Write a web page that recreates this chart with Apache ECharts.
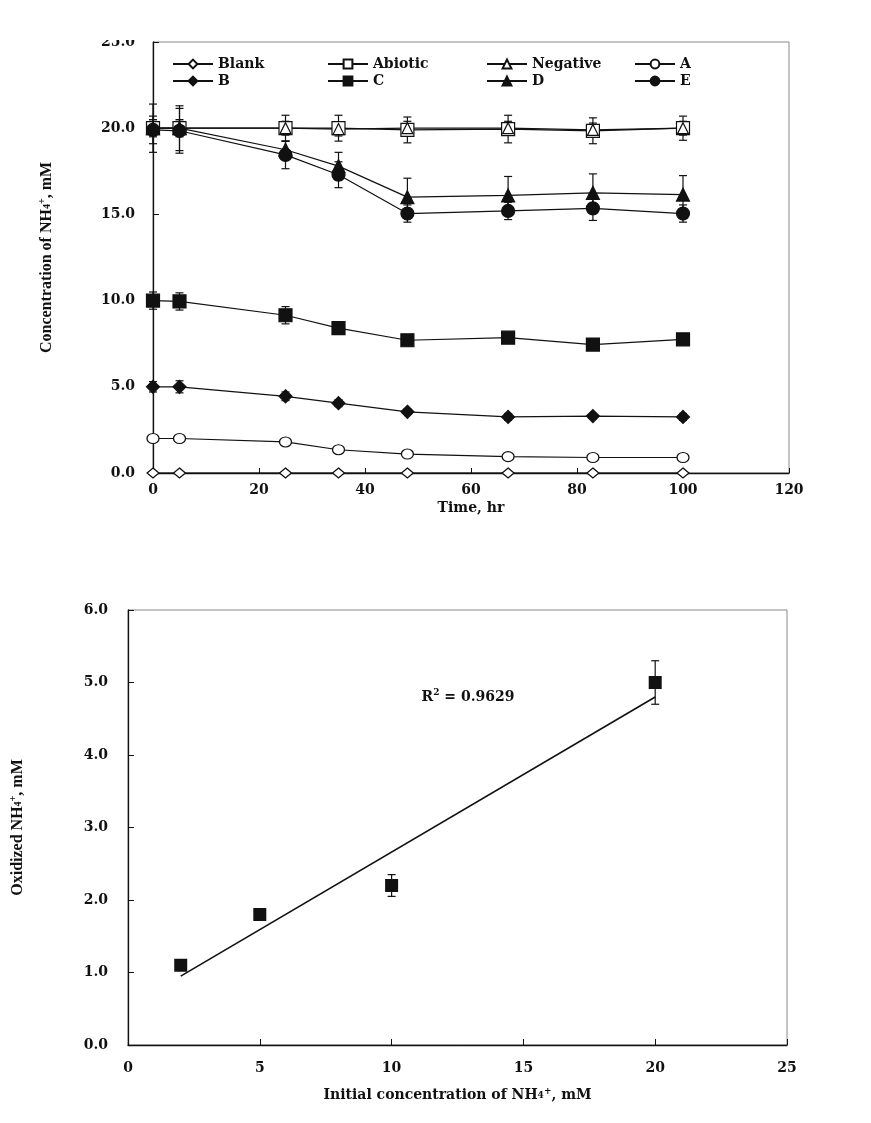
<!DOCTYPE html>
<html>
<head>
<meta charset="utf-8">
<script src="https://cdn.jsdelivr.net/npm/echarts@6/dist/echarts.min.js"></script>
<style>
  html, body { margin: 0; padding: 0; background: #fff; }
  #chart { width: 871px; height: 1123px; }
</style>
</head>
<body>
<div id="chart"></div>
<script>
// ---------- Top chart data ----------
const timeHr = [0, 5, 25, 35, 48, 67, 83, 100];
const blankVals    = [0, 0, 0, 0, 0, 0, 0, 0];
const abioticVals  = [20.0, 20.0, 20.0, 20.0, 19.9, 19.95, 19.85, 20.0];
const negativeVals = [20.0, 20.0, 20.0, 19.95, 20.0, 20.0, 19.9, 20.0];
const aVals = [2.0, 2.0, 1.8, 1.35, 1.1, 0.95, 0.9, 0.9];
const bVals = [5.0, 5.0, 4.45, 4.05, 3.55, 3.25, 3.3, 3.25];
const cVals = [10.0, 9.95, 9.15, 8.4, 7.7, 7.85, 7.45, 7.75];
const dVals = [20.0, 20.0, 18.75, 17.8, 16.0, 16.1, 16.25, 16.15];
const eVals = [19.9, 19.85, 18.45, 17.3, 15.05, 15.2, 15.35, 15.05];

const abioticErr  = [1.4, 1.3, 0.75, 0.75, 0.75, 0.8, 0.75, 0.7];
const negativeErr = [0.4, 0.4, 0.4, 0.4, 0.4, 0.4, 0.4, 0.4];
const aErr = [0.1, 0.1, 0.1, 0.1, 0.1, 0.1, 0.1, 0.1];
const bErr = [0.3, 0.35, 0.25, 0.2, 0.15, 0.2, 0.15, 0.2];
const cErr = [0.5, 0.5, 0.5, 0.35, 0.3, 0.3, 0.2, 0.3];
const dErr = [0.5, 0.5, 0.5, 0.8, 1.1, 1.1, 1.1, 1.1];
const eErr = [0.8, 1.3, 0.8, 0.75, 0.5, 0.5, 0.7, 0.5];

const topXTicks = [0, 20, 40, 60, 80, 100, 120];
const topYTicks = [0, 5, 10, 15, 20, 25];

// ---------- Bottom chart data ----------
const initConc = [2, 5, 10, 20];
const oxidized = [1.1, 1.8, 2.2, 5.0];
const oxidizedErr = [0.04, 0.08, 0.15, 0.3];
const trendX = [2, 20];
const trendY = [0.95, 4.8];
const r2Pos = [11.1, 4.8];
const r2Label = '{base|R}{sup|2}{base| = 0.9629}';

const bottomXTicks = [0, 5, 10, 15, 20, 25];
const bottomYTicks = [0, 1, 2, 3, 4, 5, 6];

// ---------- styles ----------
const tickFont = { fontFamily: 'DejaVu Serif', fontWeight: 'bold', fontSize: 14, color: '#111' };

function zip(xs, ys) { return xs.map((x, i) => [x, ys[i]]); }
function errData(xs, ys, es) { return xs.map((x, i) => [x, ys[i] - es[i], ys[i] + es[i]]); }

function errorBars(xi, yi, data, cap) {
  return {
    type: 'custom', xAxisIndex: xi, yAxisIndex: yi, z: 1, silent: true,
    data: data,
    renderItem: function (params, api) {
      const x = api.value(0), lo = api.value(1), hi = api.value(2);
      const p1 = api.coord([x, hi]), p2 = api.coord([x, lo]);
      const st = { stroke: '#111', lineWidth: 1.2 };
      return { type: 'group', children: [
        { type: 'line', shape: { x1: p1[0], y1: p1[1], x2: p2[0], y2: p2[1] }, style: st },
        { type: 'line', shape: { x1: p1[0] - cap, y1: p1[1], x2: p1[0] + cap, y2: p1[1] }, style: st },
        { type: 'line', shape: { x1: p2[0] - cap, y1: p2[1], x2: p2[0] + cap, y2: p2[1] }, style: st }
      ]};
    }
  };
}

function lineSeries(name, vals, symbol, size, filled) {
  return {
    name: name, type: 'line', xAxisIndex: 0, yAxisIndex: 0, z: 3,
    data: zip(timeHr, vals),
    symbol: symbol, symbolSize: size, showAllSymbol: true,
    lineStyle: { color: '#111', width: 1.2 },
    itemStyle: { color: filled ? '#111' : '#fff', borderColor: '#111', borderWidth: 1.2, opacity: 1 },
    emphasis: { disabled: true }
  };
}

function richName(family, base) {
  return Object.assign({ rich: {
    base: { fontFamily: family, fontWeight: 'bold', fontSize: base, color: '#111' },
    sub: { fontFamily: family, fontWeight: 'bold', fontSize: Math.round(base * 0.65), color: '#111' },
    sup: { fontFamily: family, fontWeight: 'bold', fontSize: Math.round(base * 0.65), color: '#111', padding: [0, 0, Math.round(base * 0.6), 0] }
  } }, { fontFamily: family, fontWeight: 'bold', fontSize: base, color: '#111' });
}

const legendSpec = [
  ['Blank', 172, 57], ['Abiotic', 327, 57], ['Negative', 486, 57], ['A', 634, 57],
  ['B', 172, 74], ['C', 327, 74], ['D', 486, 74], ['E', 634, 74]
];

const option = {
  backgroundColor: '#fff',
  animation: false,
  grid: [
    { left: 153, top: 42, right: 82, bottom: 650, show: true, borderColor: '#888', borderWidth: 1 },
    { left: 128, top: 610, right: 84, bottom: 78, show: true, borderColor: '#888', borderWidth: 1 }
  ],
  legend: legendSpec.map(l => ({
    data: [l[0]], left: l[1], top: l[2], padding: 0,
    itemWidth: 40, itemHeight: 11, selectedMode: false,
    textStyle: { fontFamily: 'DejaVu Serif', fontWeight: 'bold', fontSize: 14, color: '#111' }
  })),
  xAxis: [
    {
      gridIndex: 0, type: 'value', min: 0, max: 120, interval: 20,
      name: 'Time, hr', nameLocation: 'middle', nameGap: 28,
      nameTextStyle: { fontFamily: 'DejaVu Serif', fontWeight: 'bold', fontSize: 14, color: '#111' },
      axisLine: { lineStyle: { color: '#111', width: 1.3 } },
      axisTick: { inside: true, length: 5, lineStyle: { color: '#111' } },
      axisLabel: Object.assign({ margin: 10, formatter: v => topXTicks.includes(v) ? String(v) : '' }, tickFont),
      splitLine: { show: false }
    },
    {
      gridIndex: 1, type: 'value', min: 0, max: 25, interval: 5,
      name: '{base|Initial concentration of NH}{sub|4}{sup|+}{base|, mM}', nameLocation: 'middle', nameGap: 42,
      nameTextStyle: richName('DejaVu Serif', 14),
      axisLine: { lineStyle: { color: '#111', width: 1.3 } },
      axisTick: { inside: true, length: 6, lineStyle: { color: '#111' } },
      axisLabel: Object.assign({ margin: 16, formatter: v => bottomXTicks.includes(v) ? String(v) : '' }, tickFont),
      splitLine: { show: false }
    }
  ],
  yAxis: [
    {
      gridIndex: 0, type: 'value', min: 0, max: 25, interval: 5,
      name: '{base|Concentration of NH}{sub|4}{sup|+}{base|, mM}', nameLocation: 'middle', nameGap: 96, nameRotate: 90,
      nameTextStyle: richName('Liberation Serif', 16),
      axisLine: { lineStyle: { color: '#111', width: 1.3 } },
      axisTick: { inside: true, length: 6, lineStyle: { color: '#111' } },
      axisLabel: Object.assign({ margin: 18, formatter: v => topYTicks.includes(v) ? v.toFixed(1) : '' }, tickFont),
      splitLine: { show: false }
    },
    {
      gridIndex: 1, type: 'value', min: 0, max: 6, interval: 1,
      name: '{base|Oxidized NH}{sub|4}{sup|+}{base|, mM}', nameLocation: 'middle', nameGap: 100, nameRotate: 90,
      nameTextStyle: richName('Liberation Serif', 16),
      axisLine: { lineStyle: { color: '#111', width: 1.3 } },
      axisTick: { inside: true, length: 6, lineStyle: { color: '#111' } },
      axisLabel: Object.assign({ margin: 20, formatter: v => bottomYTicks.includes(v) ? v.toFixed(1) : '' }, tickFont),
      splitLine: { show: false }
    }
  ],
  graphic: [
    { type: 'rect', left: 0, top: 0, shape: { width: 871, height: 40 }, style: { fill: '#fff' }, z: 100 }
  ],
  series: [
    errorBars(0, 0, errData(timeHr, abioticVals, abioticErr), 4),
    errorBars(0, 0, errData(timeHr, negativeVals, negativeErr), 4),
    errorBars(0, 0, errData(timeHr, aVals, aErr), 4),
    errorBars(0, 0, errData(timeHr, bVals, bErr), 4),
    errorBars(0, 0, errData(timeHr, cVals, cErr), 4),
    errorBars(0, 0, errData(timeHr, dVals, dErr), 4),
    errorBars(0, 0, errData(timeHr, eVals, eErr), 4),
    lineSeries('Blank', blankVals, 'diamond', [12, 10], false),
    lineSeries('Abiotic', abioticVals, 'rect', 13, false),
    lineSeries('Negative', negativeVals, 'triangle', 11, false),
    lineSeries('A', aVals, 'circle', [12, 10], false),
    lineSeries('B', bVals, 'diamond', 13, true),
    lineSeries('C', cVals, 'rect', 13, true),
    lineSeries('D', dVals, 'triangle', 13, true),
    lineSeries('E', eVals, 'circle', 13, true),
    errorBars(1, 1, errData(initConc, oxidized, oxidizedErr), 4),
    {
      name: 'Linear', type: 'line', xAxisIndex: 1, yAxisIndex: 1, z: 2,
      data: zip(trendX, trendY), symbol: 'none',
      lineStyle: { color: '#111', width: 1.6 }
    },
    {
      name: 'Oxidized', type: 'scatter', xAxisIndex: 1, yAxisIndex: 1, z: 3,
      data: zip(initConc, oxidized), symbol: 'rect', symbolSize: 13,
      itemStyle: { color: '#111', opacity: 1 },
      emphasis: { disabled: true }
    },
    {
      name: 'R2', type: 'scatter', xAxisIndex: 1, yAxisIndex: 1, z: 4,
      data: [r2Pos], symbolSize: 2, itemStyle: { color: 'rgba(255,255,255,0)', opacity: 1 }, silent: true,
      label: {
        show: true, position: 'right', distance: 0, formatter: r2Label,
        rich: {
          base: { fontFamily: 'DejaVu Serif', fontWeight: 'bold', fontSize: 14, color: '#111' },
          sup: { fontFamily: 'DejaVu Serif', fontWeight: 'bold', fontSize: 9, color: '#111', padding: [0, 0, 9, 0] }
        },
        fontFamily: 'DejaVu Serif', fontWeight: 'bold', fontSize: 14, color: '#111'
      }
    }
  ]
};

const chart = echarts.init(document.getElementById('chart'), null, { renderer: 'canvas' });
chart.setOption(option);
</script>
</body>
</html>
